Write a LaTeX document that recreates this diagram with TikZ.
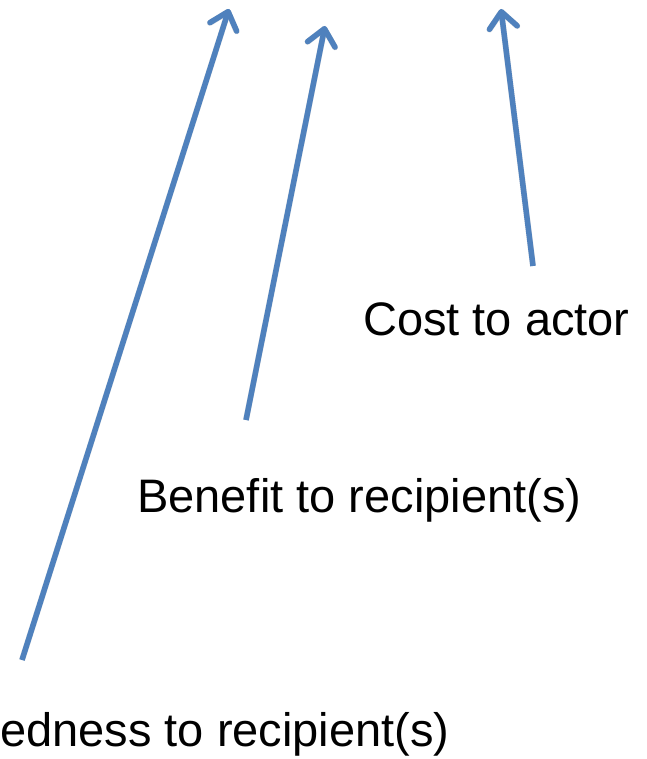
\documentclass[tikz,border=0pt]{standalone}
\usepackage{fontspec}
\setmainfont{Liberation Sans}
\usetikzlibrary{arrows.meta}
\definecolor{arrowblue}{HTML}{4F81BD}
\tikzset{
  lbl/.style={anchor=base west, inner sep=0pt, font=\fontsize{47}{56}\selectfont, text=black},
  shaft/.style={draw=arrowblue, line width=5.5pt, -{Straight Barb[length=16pt,width=28pt,line cap=round,line join=round]}},
  shade/.style={draw=black, opacity=0.12, line width=6pt, -{Straight Barb[length=16pt,width=28pt,line cap=round,line join=round]}}
}
\begin{document}
\begin{tikzpicture}[x=1pt,y=1pt]
\useasboundingbox (0,0) rectangle (646,-759);
\clip (0,0) rectangle (646,-759);
\node[lbl] (cost) at (363,-335) {Cost to actor};
\node[lbl] (benefit) at (137,-512) {Benefit to recipient(s)};
\node[lbl] (related) at (0,-746) {edness to recipient(s)};
\coordinate (a1s) at (22,-660);
\coordinate (a1e) at (229,-9);
\coordinate (a2s) at (246,-420);
\coordinate (a2e) at (325,-26);
\coordinate (a3s) at (533,-266);
\coordinate (a3e) at (501,-9);
\begin{scope}[shift={(1.5,-2)}]
\draw[shade] (a1s) -- (a1e);
\draw[shade] (a2s) -- (a2e);
\draw[shade] (a3s) -- (a3e);
\end{scope}
\draw[shaft] (a1s) -- (a1e);
\draw[shaft] (a2s) -- (a2e);
\draw[shaft] (a3s) -- (a3e);
\end{tikzpicture}
\end{document}
